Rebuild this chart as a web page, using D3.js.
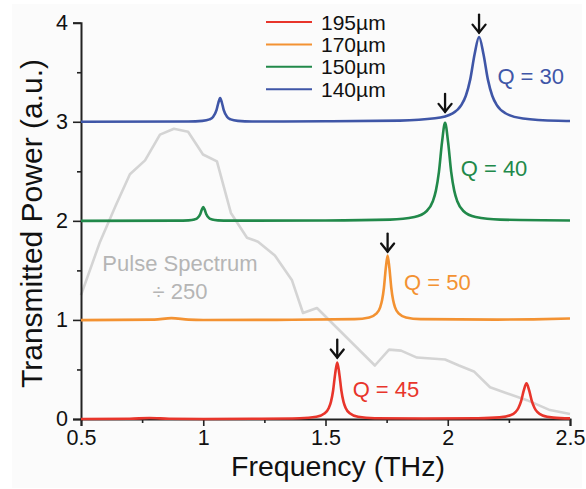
<!DOCTYPE html>
<html>
<head>
<meta charset="utf-8">
<script src="https://cdn.jsdelivr.net/npm/d3@7"></script>
<style>
  html, body { margin: 0; padding: 0; background: #ffffff; }
  svg { display: block; font-family: "Liberation Sans", Arial, sans-serif; }
</style>
</head>
<body>
<svg id="chart" width="586" height="489"></svg>
<script>
// transmission spectra, [frequency THz, power a.u.], offset by 1 per sample
var trace195 = [[0.5,0],[0.7,0.003],[0.78,0.01],[0.86,0.003],[1.0,0],[1.2,0.002],[1.395,0.007],[1.463,0.022],[1.497,0.057],
  [1.514,0.114],[1.5225,0.175],[1.531,0.285],[1.5395,0.456],[1.548,0.57],[1.5565,0.456],[1.565,0.285],[1.5735,0.175],
  [1.582,0.114],[1.599,0.057],[1.633,0.022],[1.701,0.008],[1.9,0.005],[2.124,0.008],[2.212,0.016],[2.256,0.037],
  [2.278,0.072],[2.289,0.111],[2.3,0.18],[2.311,0.288],[2.322,0.36],[2.333,0.288],[2.344,0.18],[2.355,0.111],
  [2.366,0.072],[2.388,0.036],[2.432,0.014],[2.5,0.006]];
var trace170 = [[0.5,0.998],[0.8,1.003],[0.87,1.018],[0.94,1.003],[1.0,1.0],[1.3,1.001],[1.619,1.008],[1.679,1.025],
  [1.709,1.065],[1.724,1.13],[1.7315,1.2],[1.739,1.325],[1.7465,1.52],[1.754,1.65],[1.7615,1.52],[1.769,1.325],
  [1.7765,1.2],[1.784,1.13],[1.799,1.065],[1.829,1.025],[1.889,1.008],[2.2,1.003],[2.35,1.006],[2.5,1.015]];
var trace150 = [[0.5,2.0],[0.892,2.002],[0.94,2.005],[0.964,2.014],[0.976,2.028],[0.988,2.07],[0.994,2.112],[1.0,2.14],
  [1.006,2.112],[1.012,2.07],[1.024,2.028],[1.036,2.014],[1.06,2.005],[1.108,2.002],[1.5,2.004],[1.764,2.012],
  [1.864,2.038],[1.914,2.099],[1.939,2.198],[1.9515,2.305],[1.964,2.495],[1.9765,2.792],[1.989,2.99],[2.0015,2.792],
  [2.014,2.495],[2.0265,2.305],[2.039,2.198],[2.064,2.099],[2.114,2.038],[2.214,2.012],[2.5,2.004]];
var trace140 = [[0.5,3.0],[0.9385,3.003],[0.9965,3.009],[1.0255,3.024],[1.04,3.048],[1.0545,3.12],[1.0618,3.192],
  [1.069,3.24],[1.0763,3.192],[1.0835,3.12],[1.098,3.048],[1.1125,3.024],[1.1415,3.009],[1.1995,3.003],[1.5,3.005],
  [1.804,3.012],[1.948,3.035],[2.02,3.086],[2.056,3.171],[2.074,3.263],[2.092,3.428],[2.11,3.684],[2.128,3.855],
  [2.146,3.684],[2.164,3.428],[2.182,3.263],[2.2,3.171],[2.236,3.086],[2.308,3.033],[2.452,3.01],[2.5,3.008]];

// THz pulse spectrum, scaled down by 250
var pulseSpectrum = [[0.5,1.25],[0.578,1.79],[0.643,2.16],[0.7,2.47],[0.762,2.61],[0.823,2.87],[0.88,2.93],[0.938,2.9],
  [0.999,2.67],[1.056,2.6],[1.113,2.08],[1.179,1.83],[1.224,1.79],[1.293,1.65],[1.363,1.4],[1.408,1.07],[1.465,1.12],
  [1.702,0.54],[1.76,0.7],[1.809,0.69],[1.874,0.62],[1.989,0.6],[2.046,0.54],[2.107,0.48],[2.173,0.32],[2.23,0.27],
  [2.324,0.19],[2.418,0.09],[2.5,0.05]];

var sampleNames = ["195µm", "170µm", "150µm", "140µm"];
var qFactors = [45, 50, 40, 30];
// where each Q label starts, [frequency, power]
var qLabelAt = [[1.611,0.222],[1.821,1.303],[2.053,2.455],[2.203,3.384]];
// tip of the arrow marking each resonance, [frequency, power]
var arrowTips = [[1.548,0.62],[1.754,1.69],[1.989,3.10],[2.128,3.90]];

var xMajor = [0.5, 1, 1.5, 2, 2.5];
var xMinor = [0.75, 1.25, 1.75, 2.25];
var yMajor = [0, 1, 2, 3, 4];
var yMinor = [0.5, 1.5, 2.5, 3.5];

var colors = ["#e8352b", "#f39232", "#21894a", "#3f56a7"];
var traces = [trace195, trace170, trace150, trace140];

var svg = d3.select("#chart");

svg.append("rect")
  .attr("x", 12).attr("y", 4)
  .attr("width", 570).attr("height", 484)
  .attr("fill", "#fbfbfb");

var x = d3.scaleLinear().domain([0.5, 2.5]).range([81, 570]);
var y = d3.scaleLinear().domain([0, 4]).range([419, 22.7]);

var line = d3.line()
  .x(function(d) { return x(d[0]); })
  .y(function(d) { return y(d[1]); })
  .curve(d3.curveMonotoneX);

// pulse spectrum sits behind everything
svg.append("path")
  .datum(pulseSpectrum)
  .attr("d", d3.line().x(function(d) { return x(d[0]); }).y(function(d) { return y(d[1]); }))
  .attr("fill", "none")
  .attr("stroke", "#d4d4d4")
  .attr("stroke-width", 2.6)
  .attr("stroke-linejoin", "round");

var grayText = svg.append("text")
  .attr("fill", "#b5b5b5")
  .attr("font-size", 22)
  .attr("text-anchor", "middle");
grayText.append("tspan").attr("x", x(0.905)).attr("y", y(1.495)).text("Pulse Spectrum");
grayText.append("tspan").attr("x", x(0.905)).attr("y", y(1.212)).text("÷ 250");

// axes
svg.append("g")
  .attr("transform", "translate(0," + y(0) + ")")
  .call(d3.axisBottom(x).tickValues(xMajor).tickSize(7).tickPadding(4)
    .tickFormat(function(d) { return String(d); }));
svg.append("g")
  .attr("transform", "translate(0," + y(0) + ")")
  .call(d3.axisBottom(x).tickValues(xMinor).tickSize(4).tickFormat(""))
  .select(".domain").remove();

svg.append("g")
  .attr("transform", "translate(" + x(0.5) + ",0)")
  .call(d3.axisLeft(y).tickValues(yMajor).tickSize(8).tickPadding(5).tickFormat(d3.format("d")));
svg.append("g")
  .attr("transform", "translate(" + x(0.5) + ",0)")
  .call(d3.axisLeft(y).tickValues(yMinor).tickSize(4).tickFormat(""))
  .select(".domain").remove();

svg.selectAll(".domain").attr("stroke", "#222").attr("stroke-width", 2);
svg.selectAll(".tick line").attr("stroke", "#222").attr("stroke-width", 1.6);
svg.selectAll(".tick text")
  .attr("font-size", 21.5)
  .attr("font-family", "Liberation Sans, Arial, sans-serif")
  .attr("fill", "#111");

svg.append("text")
  .attr("x", 338).attr("y", 476)
  .attr("text-anchor", "middle")
  .attr("font-size", 28.5)
  .attr("fill", "#111")
  .text("Frequency (THz)");

svg.append("text")
  .attr("transform", "translate(42," + 223.5 + ") rotate(-90)")
  .attr("text-anchor", "middle")
  .attr("font-size", 30)
  .attr("fill", "#111")
  .text("Transmitted Power (a.u.)");

// resonance traces
svg.append("g").selectAll("path")
  .data(traces)
  .join("path")
  .attr("d", line)
  .attr("fill", "none")
  .attr("stroke", function(d, i) { return colors[i]; })
  .attr("stroke-width", 2.6)
  .attr("stroke-linejoin", "round");

// Q labels
svg.append("g").selectAll("text")
  .data(qFactors)
  .join("text")
  .attr("x", function(d, i) { return x(qLabelAt[i][0]); })
  .attr("y", function(d, i) { return y(qLabelAt[i][1]); })
  .attr("font-size", 22)
  .attr("fill", function(d, i) { return colors[i]; })
  .text(function(d) { return "Q = " + d; });

// arrows pointing down at each resonance
var arrows = svg.append("g")
  .attr("fill", "none")
  .attr("stroke", "#111")
  .attr("stroke-width", 2.3)
  .attr("stroke-linecap", "round")
  .attr("stroke-linejoin", "miter");
arrowTips.forEach(function(t) {
  var ax = x(t[0]), ay = y(t[1]);
  arrows.append("path").attr("d", "M" + ax + "," + (ay - 18) + "V" + ay);
  arrows.append("path").attr("d", "M" + (ax - 6.5) + "," + (ay - 8) + "L" + ax + "," + ay + "L" + (ax + 6.5) + "," + (ay - 8));
});

// legend
var legend = svg.append("g").attr("transform", "translate(266,22)");
var rows = legend.selectAll("g")
  .data(sampleNames)
  .join("g")
  .attr("transform", function(d, i) { return "translate(0," + (i * 22.4) + ")"; });
rows.append("line")
  .attr("x1", 0).attr("x2", 46)
  .attr("stroke", function(d, i) { return colors[i]; })
  .attr("stroke-width", 2);
rows.append("text")
  .attr("x", 55).attr("y", 7.5)
  .attr("font-size", 21)
  .attr("fill", "#111")
  .text(function(d) { return d; });
</script>
</body>
</html>
